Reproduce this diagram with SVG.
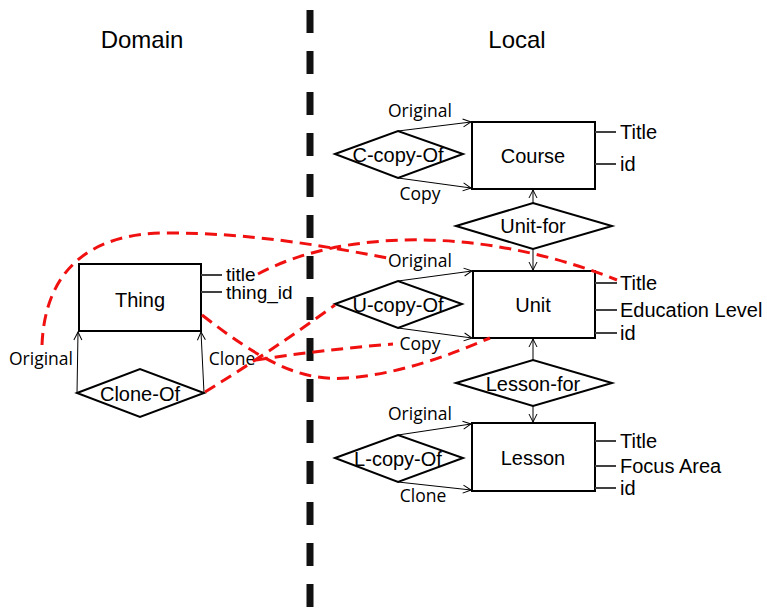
<svg xmlns="http://www.w3.org/2000/svg" width="767" height="612" viewBox="0 0 767 612">
<defs>
<style>
.ent{fill:#fff;stroke:#000;stroke-width:2}
.rel{fill:#fff;stroke:#000;stroke-width:2}
.nl{font-family:"Liberation Sans",Arial,sans-serif;font-size:20px;fill:#000;text-anchor:middle}
.hd{font-family:"Liberation Sans",Arial,sans-serif;font-size:24px;fill:#000;text-anchor:middle}
.at{font-family:"Liberation Sans",Arial,sans-serif;font-size:20px;fill:#000}
.ts{font-size:19px}
.rl{font-family:"Open Sans","Liberation Sans",sans-serif;font-size:17.5px;fill:#000;text-anchor:middle}
.al{stroke:#404040;stroke-width:2}
.arr{stroke:#000;stroke-width:1;fill:none;marker-end:url(#oa)}
.red{stroke:#f01010;stroke-width:3;fill:none;stroke-dasharray:12 7}
</style>
<marker id="oa" markerUnits="userSpaceOnUse" markerWidth="10" markerHeight="10" refX="9" refY="5" orient="auto">
<path d="M1,1 L9,5 L1,9" fill="none" stroke="#000" stroke-width="1"/>
</marker>
</defs>
<rect width="767" height="612" fill="#fff"/>

<text class="hd" x="142" y="48">Domain</text>
<text class="hd" x="517" y="48">Local</text>

<line x1="310" y1="10" x2="310" y2="612" stroke="#111" stroke-width="7" stroke-dasharray="23 18"/>

<g id="thing">
<rect class="ent" x="79" y="264" width="122" height="67"/>
<text class="nl" x="140" y="307">Thing</text>
<line class="al" x1="201" y1="275" x2="222" y2="275"/>
<line class="al" x1="201" y1="292" x2="222" y2="292"/>
<text class="at ts" x="226" y="281">title</text>
<text class="at ts" x="226" y="299">thing_id</text>
</g>
<g id="clone-of">
<polygon class="rel" points="77,393 140,369 204,393 140,417"/>
<text class="nl" x="140" y="401">Clone-Of</text>
</g>

<g id="course">
<rect class="ent" x="472" y="122" width="123" height="67"/>
<text class="nl" x="533" y="163">Course</text>
<line class="al" x1="595" y1="132" x2="616" y2="132"/>
<line class="al" x1="595" y1="164" x2="616" y2="164"/>
<text class="at" x="620" y="139">Title</text>
<text class="at" x="620" y="171">id</text>
</g>
<g id="c-copy-of">
<polygon class="rel" points="335,154 398,131 463,154 398,178"/>
<text class="nl" x="398" y="162">C-copy-Of</text>
</g>
<g id="unit-for">
<polygon class="rel" points="456,226 533,203 612,226 533,249"/>
<text class="nl" x="533" y="233">Unit-for</text>
</g>

<g id="unit">
<rect class="ent" x="473" y="271" width="122" height="67"/>
<text class="nl" x="533" y="312">Unit</text>
<line class="al" x1="595" y1="283" x2="617" y2="283"/>
<line class="al" x1="595" y1="310" x2="617" y2="310"/>
<line class="al" x1="595" y1="333" x2="617" y2="333"/>
<text class="at" x="620" y="290">Title</text>
<text class="at" x="620" y="317">Education Level</text>
<text class="at" x="620" y="340">id</text>
</g>
<g id="u-copy-of">
<polygon class="rel" points="335,304 398,281 462,304 398,328"/>
<text class="nl" x="398" y="312">U-copy-Of</text>
</g>
<g id="lesson-for">
<polygon class="rel" points="456,383 533,360 612,383 533,406"/>
<text class="nl" x="533" y="391">Lesson-for</text>
</g>

<g id="lesson">
<rect class="ent" x="472" y="423" width="123" height="68"/>
<text class="nl" x="533" y="465">Lesson</text>
<line class="al" x1="595" y1="441" x2="616" y2="441"/>
<line class="al" x1="595" y1="466" x2="616" y2="466"/>
<line class="al" x1="595" y1="488" x2="616" y2="488"/>
<text class="at" x="620" y="448">Title</text>
<text class="at" x="620" y="473">Focus Area</text>
<text class="at" x="620" y="495">id</text>
</g>
<g id="l-copy-of">
<polygon class="rel" points="335,458 398,435 463,458 398,482"/>
<text class="nl" x="398" y="466">L-copy-Of</text>
</g>

<g id="connectors">
<line class="arr" x1="77" y1="393" x2="78" y2="332"/>
<line class="arr" x1="204" y1="393" x2="201" y2="332"/>
<line class="arr" x1="398" y1="131" x2="471" y2="122"/>
<line class="arr" x1="398" y1="178" x2="471" y2="188"/>
<line class="arr" x1="533" y1="203" x2="533" y2="190"/>
<line class="arr" x1="533" y1="249" x2="533" y2="270"/>
<line class="arr" x1="398" y1="281" x2="472" y2="271"/>
<line class="arr" x1="398" y1="328" x2="472" y2="338"/>
<line class="arr" x1="533" y1="360" x2="533" y2="339"/>
<line class="arr" x1="533" y1="406" x2="533" y2="422"/>
<line class="arr" x1="398" y1="435" x2="471" y2="424"/>
<line class="arr" x1="398" y1="482" x2="471" y2="490"/>

<text class="rl" x="41" y="365">Original</text>
<text class="rl" x="232" y="365">Clone</text>
<text class="rl" x="420" y="117">Original</text>
<text class="rl" x="420" y="200">Copy</text>
<text class="rl" x="420" y="267">Original</text>
<text class="rl" x="420" y="350">Copy</text>
<text class="rl" x="420" y="420">Original</text>
<text class="rl" x="423" y="502">Clone</text>

<path class="red" d="M42,345 C45,270 90,233 167,233 C250,233 320,245 387,258"/>
<path class="red" d="M258,274 C340,230 480,225 617,280"/>
<path class="red" d="M205,392 Q270,352 335,305"/>
<path class="red" d="M202,315 C260,360 300,382 347,378 C400,374 450,355 490,338"/>
<path class="red" d="M256,360 Q320,350 393,344"/>
</g>
</svg>
